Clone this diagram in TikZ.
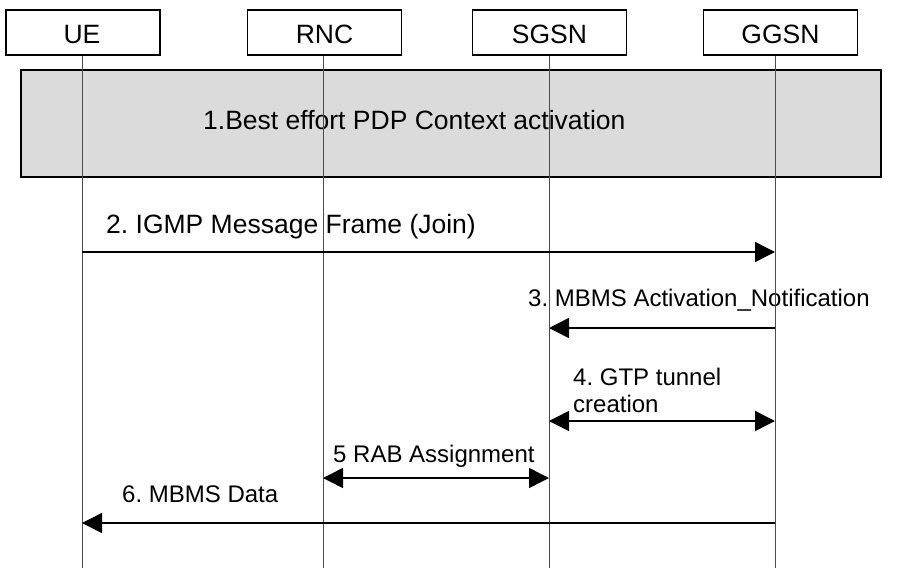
\documentclass[tikz,border=0pt]{standalone}
\usepackage{fontspec}
\setmainfont{Liberation Sans}
\usepackage{tikz}
\usetikzlibrary{arrows.meta}
\frenchspacing

\begin{document}
\begin{tikzpicture}[x=1pt,y=-1pt,
  entity/.style={draw,line width=1.2pt,minimum width=154pt,minimum height=45pt,inner sep=0pt},
  life/.style={black!70,line width=0.9pt},
  msg/.style={line width=1.5pt,-{Triangle[length=20pt,width=20pt]}},
  bimsg/.style={line width=1.5pt,{Triangle[length=20pt,width=20pt]}-{Triangle[length=20pt,width=20pt]}},
  big/.style={font=\fontsize{26.5}{30}\selectfont,inner sep=0pt},
  lbl/.style={font=\fontsize{24}{27}\selectfont,inner sep=0pt,anchor=base west,align=left}]
 \useasboundingbox (0,0) rectangle (898,568);

 % entities
 \node[entity] (ue) at (83,32.5) {};
 \node[entity] (rnc) at (324.5,32.5) {};
 \node[entity] (sgsn) at (549.5,32.5) {};
 \node[entity] (ggsn) at (780.5,32.5) {};
 \node[big,anchor=base] (ue-t) at (82,43) {UE};
 \node[big,anchor=base] (rnc-t) at (324.5,43) {RNC};
 \node[big,anchor=base] (sgsn-t) at (549.5,43) {SGSN};
 \node[big,anchor=base] (ggsn-t) at (780.5,43) {GGSN};

 % step 1
 \node[draw,fill=black!14,line width=1.2pt,minimum width=860pt,minimum height=107pt,inner sep=0pt] (pdp) at (451,123.5) {};
 \node[big,anchor=base west] (pdp-t) at (203,129) {1.Best effort PDP Context activation};

 % labels
 \node[big,anchor=base west] (m2) at (106,233) {2. IGMP Message Frame (Join)};
 \node[lbl] (m3) at (528,306) {3. MBMS Activation\_Notification};
 \node[lbl] (m4) at (573,412) {4. GTP tunnel\\creation};
 \node[lbl] (m5) at (333,462) {5 RAB Assignment};
 \node[lbl] (m6) at (122,502) {6. MBMS Data};

 % lifelines
 \coordinate (ue-end) at (82,568);
 \coordinate (rnc-end) at (323,568);
 \coordinate (sgsn-end) at (549,568);
 \coordinate (ggsn-end) at (775,568);
 \draw[life] (ue-end |- ue.south) -- (ue-end);
 \draw[life] (rnc-end |- rnc.south) -- (rnc-end);
 \draw[life] (sgsn-end |- sgsn.south) -- (sgsn-end);
 \draw[life] (ggsn-end |- ggsn.south) -- (ggsn-end);

 % messages
 \draw[msg] (ue-end |- 0,252) -- (ggsn-end |- 0,252);
 \draw[msg] (ggsn-end |- 0,328) -- (sgsn-end |- 0,328);
 \draw[bimsg] (sgsn-end |- 0,421) -- (ggsn-end |- 0,421);
 \draw[bimsg] (rnc-end |- 0,478) -- (sgsn-end |- 0,478);
 \draw[msg] (ggsn-end |- 0,523) -- (ue-end |- 0,523);
\end{tikzpicture}
\end{document}
